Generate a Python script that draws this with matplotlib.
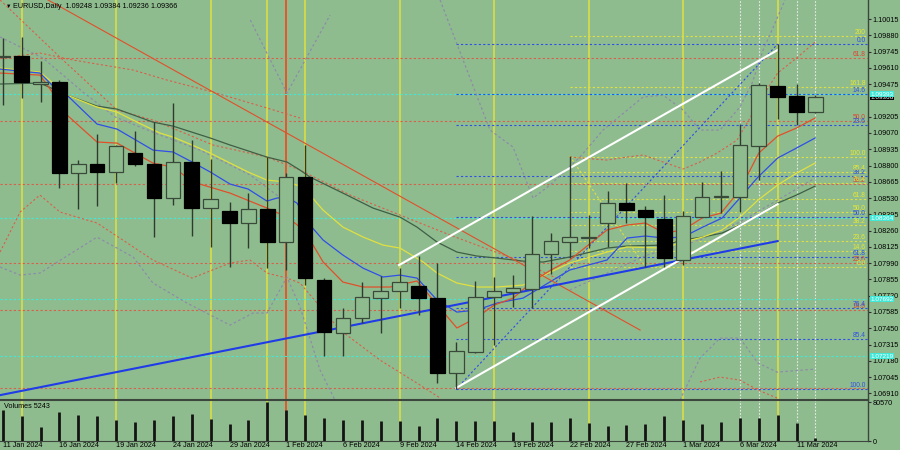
import matplotlib
matplotlib.use('Agg')
import matplotlib.pyplot as plt
import matplotlib.transforms as mtransforms
from matplotlib.patches import Rectangle
import numpy as np

plt.rcParams['font.family'] = ['Liberation Sans', 'DejaVu Sans']

# daily bars EURUSD, 11 Jan 2024 .. 12 Mar 2024
date_labels = ['11 Jan 2024', '16 Jan 2024', '19 Jan 2024', '24 Jan 2024', '29 Jan 2024',
               '1 Feb 2024', '6 Feb 2024', '9 Feb 2024', '14 Feb 2024', '19 Feb 2024',
               '22 Feb 2024', '27 Feb 2024', '1 Mar 2024', '6 Mar 2024', '11 Mar 2024']
date_bars = [0, 3, 6, 9, 12, 15, 18, 21, 24, 27, 30, 33, 36, 39, 42]

opens = [1.09700, 1.09711, 1.09476, 1.09490, 1.08735, 1.08810, 1.08748, 1.08903, 1.08810, 1.08528,
         1.08831, 1.08445, 1.08422, 1.08320, 1.08439, 1.08165, 1.08702, 1.07850, 1.07413, 1.07532,
         1.07703, 1.07759, 1.07802, 1.07703, 1.07076, 1.07255, 1.07711, 1.07748, 1.07773, 1.08063,
         1.08168, 1.08200, 1.08320, 1.08486, 1.08431, 1.08356, 1.08016, 1.08370, 1.08536, 1.08536,
         1.08964, 1.09462, 1.09379, 1.09248]
highs = [1.09857, 1.09868, 1.09669, 1.09509, 1.08845, 1.09061, 1.08970, 1.09088, 1.09158, 1.09321,
         1.09011, 1.08854, 1.08499, 1.08569, 1.08873, 1.08740, 1.08970, 1.07864, 1.07615, 1.07836,
         1.07883, 1.07947, 1.08049, 1.07988, 1.07338, 1.07844, 1.07872, 1.07891, 1.08381, 1.08242,
         1.08878, 1.08389, 1.08591, 1.08652, 1.08464, 1.08555, 1.08422, 1.08660, 1.08757, 1.09144,
         1.09487, 1.09808, 1.09476, 1.09384]
lows = [1.09302, 1.09357, 1.09329, 1.08615, 1.08439, 1.08464, 1.08652, 1.08798, 1.08209, 1.08472,
        1.08215, 1.08126, 1.07955, 1.08113, 1.07947, 1.07935, 1.07808, 1.07222, 1.07222, 1.07491,
        1.07413, 1.07615, 1.07559, 1.06993, 1.06943, 1.07242, 1.07311, 1.07623, 1.07615, 1.07900,
        1.08030, 1.08113, 1.08126, 1.08325, 1.07960, 1.07960, 1.07974, 1.08370, 1.08403, 1.08416,
        1.08679, 1.09183, 1.09136, 1.09236]
closes = [1.09712, 1.09490, 1.09490, 1.08735, 1.08810, 1.08748, 1.08964, 1.08810, 1.08528, 1.08831,
          1.08450, 1.08522, 1.08320, 1.08436, 1.08165, 1.08702, 1.07864, 1.07416, 1.07532, 1.07706,
          1.07761, 1.07836, 1.07703, 1.07076, 1.07261, 1.07711, 1.07761, 1.07781, 1.08063, 1.08176,
          1.08209, 1.08205, 1.08491, 1.08431, 1.08370, 1.08032, 1.08381, 1.08536, 1.08549, 1.08970,
          1.09467, 1.09365, 1.09246, 1.09366]
volumes = [64700, 52400, 29200, 61200, 54500, 53000, 42800, 39500, 43600, 53000,
           56500, 45600, 34500, 43600, 80570, 64100, 54500, 46900, 44200, 43600,
           40700, 41500, 30400, 48300, 41500, 40700, 42100, 19500, 40100, 40100,
           47700, 38000, 30400, 32500, 36000, 51000, 42800, 36000, 39500, 46900,
           48300, 54500, 37400, 5243]

# moving averages, read as (bar, price)
ma_red = [(-0.14, 1.09567), (1.97, 1.09550), (2.66, 1.09401), (3.40, 1.09219), (4.99, 1.08995),
          (6.05, 1.08986), (7.95, 1.08820), (9.01, 1.08787), (10.07, 1.08663), (12.03, 1.08571),
          (13.98, 1.08447), (15.04, 1.08372), (15.73, 1.08289), (16.26, 1.08182), (16.95, 1.08000),
          (18.0, 1.07833), (19.06, 1.07792), (20.49, 1.07792), (21.92, 1.07842), (24.03, 1.07452),
          (25.04, 1.07535), (26.0, 1.07642), (27.0, 1.07700), (28.0, 1.07833), (29.0, 1.07933),
          (30.0, 1.08016), (31.97, 1.08265), (33.03, 1.08306), (34.0, 1.08323), (35.0, 1.08240),
          (36.0, 1.08265), (37.0, 1.08364), (38.0, 1.08405), (39.0, 1.08596), (40.0, 1.08903),
          (41.0, 1.09044), (42.0, 1.09111), (42.98, 1.09194)]
ma_blue = [(-0.14, 1.09600), (1.97, 1.09567), (2.61, 1.09467), (3.40, 1.09384), (4.99, 1.09144),
           (6.05, 1.09102), (7.95, 1.08928), (9.01, 1.08912), (10.02, 1.08829), (10.98, 1.08746),
           (12.03, 1.08646), (12.98, 1.08605), (13.98, 1.08505), (14.51, 1.08530), (15.04, 1.08538),
           (15.57, 1.08488), (16.26, 1.08306), (16.95, 1.08182), (18.0, 1.08057), (19.06, 1.07949),
           (20.12, 1.07875), (21.02, 1.07891), (21.92, 1.07866), (22.98, 1.07684), (24.03, 1.07584),
           (25.09, 1.07601), (26.15, 1.07659), (27.53, 1.07700), (30.0, 1.07933), (31.97, 1.08016),
           (33.03, 1.08198), (34.0, 1.08215), (35.0, 1.08198), (36.0, 1.08207), (37.05, 1.08290),
           (38.06, 1.08364), (39.0, 1.08530), (39.96, 1.08704), (41.0, 1.08862), (42.0, 1.08945),
           (42.98, 1.09028)]
ma_yellow = [(-0.14, 1.09608), (1.97, 1.09575), (2.66, 1.09484), (3.40, 1.09384), (4.99, 1.09285),
             (6.05, 1.09243), (7.11, 1.09160), (8.32, 1.09069), (9.01, 1.09036), (10.02, 1.08970),
             (10.98, 1.08903), (12.03, 1.08820), (12.98, 1.08746), (13.98, 1.08679), (15.04, 1.08663),
             (15.89, 1.08621), (16.95, 1.08430), (18.0, 1.08289), (19.06, 1.08207), (20.12, 1.08140),
             (21.02, 1.08115), (22.24, 1.08000), (22.98, 1.07908), (24.03, 1.07825), (25.09, 1.07792),
             (26.15, 1.07792), (27.53, 1.07808), (30.0, 1.07991), (31.97, 1.08082), (33.03, 1.08124),
             (35.0, 1.08115), (36.0, 1.08165), (37.05, 1.08207), (38.06, 1.08265), (39.0, 1.08372),
             (39.96, 1.08513), (41.0, 1.08638), (42.0, 1.08737), (42.98, 1.08820)]
ma_green = [(-0.14, 1.09476), (1.97, 1.09484), (3.40, 1.09384), (4.99, 1.09293), (6.05, 1.09268),
            (7.95, 1.09160), (9.01, 1.09127), (10.98, 1.09028), (12.03, 1.08970), (13.98, 1.08870),
            (15.04, 1.08829), (15.73, 1.08762), (16.26, 1.08704), (18.0, 1.08571), (19.59, 1.08447),
            (21.02, 1.08372), (21.92, 1.08289), (22.98, 1.08165), (24.03, 1.08082), (25.09, 1.08049),
            (26.15, 1.08032), (27.53, 1.08007), (28.59, 1.07999), (30.0, 1.08041), (31.97, 1.08115),
            (33.03, 1.08132), (35.0, 1.08140), (36.0, 1.08182), (37.05, 1.08207), (38.06, 1.08240),
            (39.0, 1.08306), (39.96, 1.08389), (41.0, 1.08488), (42.0, 1.08555), (42.98, 1.08629)]

# dotted bands / envelopes, (bar, price)
gray_upper_left = [(13.1, 1.10007), (15.04, 1.09401), (17.32, 1.10048)]
gray_upper_right = [(23.14, 1.10173), (25.78, 1.09094), (27.0, 1.08953), (28.06, 1.08530),
                    (28.96, 1.08638), (30.54, 1.08870), (31.76, 1.09094), (33.88, 1.09368),
                    (34.94, 1.09384), (36.0, 1.09260), (36.89, 1.09094), (37.95, 1.09094),
                    (39.0, 1.09285), (39.65, 1.09484), (40.23, 1.09758), (40.7, 1.09924),
                    (41.39, 1.10173)]
gray_desc = [(-0.14, 1.09866), (2.13, 1.09691), (4.25, 1.09409), (5.95, 1.09202), (8.32, 1.09053),
             (10.44, 1.08928), (13.1, 1.08721), (15.2, 1.08472)]
gray_mid_right = [(30.0, 1.07767), (34.09, 1.08057), (36.89, 1.08182), (39.0, 1.08331),
                  (41.0, 1.08513), (42.98, 1.08696)]
gray_lower_left = [(-0.14, 1.07958), (0.92, 1.07891), (1.97, 1.07908), (4.99, 1.08206), (6.9, 1.08041),
                   (7.95, 1.07825), (9.75, 1.07659), (12.03, 1.07476), (13.24, 1.07576),
                   (13.98, 1.07576), (15.04, 1.07874), (15.73, 1.07626), (16.79, 1.07103),
                   (17.58, 1.06854)]
gray_lower_right = [(35.83, 1.06854), (36.89, 1.07202), (37.95, 1.07368), (39.0, 1.07368),
                    (39.96, 1.07161), (40.97, 1.07086), (42.98, 1.07111)]
red_lower_left = [(-0.14, 1.08082), (0.92, 1.08414), (1.97, 1.08555), (3.03, 1.08414), (4.99, 1.08323),
                  (7.95, 1.08016), (10.02, 1.07866), (12.03, 1.07991), (13.08, 1.08016),
                  (13.98, 1.07908), (15.04, 1.07866), (15.73, 1.07825), (17.85, 1.07435),
                  (19.96, 1.07186), (22.08, 1.06979), (23.14, 1.06871)]
red_lower_right = [(36.89, 1.07004), (37.95, 1.07045), (39.0, 1.07020), (39.96, 1.06937),
                   (40.97, 1.06871)]
red_upper_right = [(30.0, 1.08870), (31.97, 1.08845), (33.03, 1.08870), (33.88, 1.08887),
                   (36.0, 1.08771), (36.89, 1.08829), (37.79, 1.08903), (38.85, 1.09011),
                   (39.38, 1.09152), (40.07, 1.09343), (41.0, 1.09567), (42.0, 1.09691),
                   (42.98, 1.09824)]
red_upper_left = [(-0.14, 1.09691), (1.97, 1.09733), (3.72, 1.09675), (6.9, 1.09592), (8.69, 1.09509),
                  (11.13, 1.09409), (13.98, 1.09277), (15.73, 1.09194)]
red_diag = [(-0.14, 1.10173), (3.19, 1.09675), (6.05, 1.09260), (7.95, 1.09177), (11.13, 1.08970),
            (13.98, 1.08870), (15.73, 1.08762), (18.38, 1.08555), (21.02, 1.08389), (23.67, 1.08223),
            (25.78, 1.08099), (27.53, 1.07999), (29.49, 1.07850)]

# trend lines (bar, price)
red_trend = [(2.4, 1.10173), (33.72, 1.07435)]
white_upper = [(20.97, 1.07974), (41.0, 1.09758)]
white_lower = [(23.98, 1.06954), (41.0, 1.08480)]
blue_trend = [(-0.14, 1.06895), (41.0, 1.08173)]
blue_fib_diag = [(23.98, 1.06943), (41.0, 1.09808)]
yellow_fib_diag = [(30.0, 1.08878), (34.0, 1.07960)]

# fibonacci levels
red_fib_lab = ['61.8', '50.0', '38.2', '23.6', '14.6', '']
red_fib_px = [1.09691, 1.09169, 1.08646, 1.07991, 1.07601, 1.06954]
blue_fib_lab = ['0.0', '14.6', '23.6', '38.2', '50.0', '61.8', '76.4', '85.4', '100.0']
blue_fib_px = [1.09808, 1.09390, 1.09132, 1.08714, 1.08376, 1.08037, 1.07619, 1.07361, 1.06943]
yel_fib_lab = ['200', '161.8', '100.0', '85.4', '76.4', '61.8', '50.0', '38.2', '23.6', '14.6', '0.0']
yel_fib_px = [1.09874, 1.09451, 1.08874, 1.08746, 1.08654, 1.08522, 1.08414, 1.08306, 1.08173,
              1.08093, 1.07958]
cyan_px = [1.09393, 1.08364, 1.07692, 1.07219]

price_ticks = [1.10015, 1.09880, 1.09745, 1.09610, 1.09475, 1.09205, 1.09070, 1.08935, 1.08800,
               1.08665, 1.08530, 1.08395, 1.08260, 1.08125, 1.07990, 1.07855, 1.07720, 1.07585,
               1.07450, 1.07315, 1.07180, 1.07045, 1.06910]

friday_bars = [1, 6, 11, 14, 16, 21, 26, 31, 36, 41]
month_bar = 15
white_bars = [39, 40, 42, 43]

BG = '#8fbc8f'
DARK = '#2e3b2e'
RED = '#e0502a'
BLUE = '#2f4fe6'
YEL = '#e0e040'
GRN = '#3f5f45'
GRAY = '#8c8ca8'
RDOT = '#d8604a'
CYAN = '#40e8d8'
DOT = (0, (2, 2))
FS = 5.2

fig = plt.figure(figsize=(9, 4.5), dpi=100, facecolor=BG)
ax = fig.add_axes([0, 51 / 450, 868 / 900, 399 / 450], facecolor=BG)
axv = fig.add_axes([0, 9 / 450, 868 / 900, 41 / 450], facecolor=BG, sharex=ax)

x0, x1 = -0.143, 45.78
ax.set_xlim(x0, x1)
ax.set_ylim(1.06863, 1.10173)
axv.set_ylim(0, 85300)

# vertical separators
for a in (ax, axv):
    for b in friday_bars:
        a.axvline(b, color=YEL, lw=1.1, zorder=1)
    a.axvline(month_bar, color='#ff3a10', lw=1.1, zorder=1)
    for b in white_bars:
        a.axvline(b, color='#e8e8e8', lw=0.8, ls=(0, (1.5, 1.5)), zorder=1)

# horizontal levels
for p in red_fib_px:
    ax.axhline(p, color=RDOT, lw=0.8, ls=DOT, zorder=1)
for p in cyan_px:
    ax.axhline(p, color=CYAN, lw=0.8, ls=DOT, zorder=1)
ax.hlines(blue_fib_px, 23.98, x1, color=BLUE, lw=0.8, ls=DOT, zorder=1)
ax.hlines(yel_fib_px, 30.0, x1, color=YEL, lw=0.8, ls=DOT, zorder=1)

lab_x = 45.66
for lab, p in zip(red_fib_lab, red_fib_px):
    ax.text(lab_x, p, lab, color='#e04030', fontsize=4.8, ha='right', va='bottom')
for lab, p in zip(blue_fib_lab, blue_fib_px):
    ax.text(lab_x, p, lab, color=BLUE, fontsize=4.8, ha='right', va='bottom')
for lab, p in zip(yel_fib_lab, yel_fib_px):
    ax.text(lab_x, p, lab, color='#e8e830', fontsize=4.8, ha='right', va='bottom')


def line(pts, **kw):
    xs, ys = zip(*pts)
    ax.plot(xs, ys, **kw)


# dotted bands
for pts in (gray_upper_left, gray_upper_right, gray_desc, gray_mid_right, gray_lower_left, gray_lower_right):
    line(pts, color=GRAY, lw=0.9, ls=DOT, zorder=2)
for pts in (red_lower_left, red_lower_right, red_upper_right, red_upper_left, red_diag):
    line(pts, color=RDOT, lw=0.8, ls=DOT, zorder=2)
line(blue_fib_diag, color=BLUE, lw=0.8, ls=DOT, zorder=2)
line(yellow_fib_diag, color=YEL, lw=0.8, ls=DOT, zorder=2)

# moving averages
line(ma_green, color=GRN, lw=0.9, zorder=3)
line(ma_yellow, color=YEL, lw=0.9, zorder=3)
line(ma_blue, color=BLUE, lw=0.9, zorder=3)
line(ma_red, color=RED, lw=0.9, zorder=3)

# trend lines
line(red_trend, color=RED, lw=0.8, zorder=3)
line(blue_trend, color='#1f3ce8', lw=1.5, zorder=3)
line(white_upper, color='white', lw=1.5, zorder=3)
line(white_lower, color='white', lw=1.5, zorder=3)

# candles
w = 0.77
for i in range(len(opens)):
    o, h, l, c = opens[i], highs[i], lows[i], closes[i]
    ax.vlines(i, l, h, color=DARK, lw=1, zorder=4)
    lo, hi = min(o, c), max(o, c)
    if hi - lo < 0.00004:
        ax.hlines((o + c) / 2, i - w / 2, i + w / 2, color='black', lw=1.2, zorder=5)
        continue
    fc = BG if c > o else 'black'
    ec = '#3a4a3a' if c > o else 'black'
    ax.add_patch(Rectangle((i - w / 2, lo), w, hi - lo, facecolor=fc, edgecolor=ec, lw=0.9, zorder=5))

# volume
axv.vlines(np.arange(len(volumes)), 0, volumes, color='#141414', lw=2, zorder=3)

# axes look
for a in (ax, axv):
    for s in ('left', 'top', 'bottom'):
        a.spines[s].set_visible(False)
    a.spines['right'].set_color('#3c463c')
    a.spines['right'].set_linewidth(1)
    a.yaxis.tick_right()
    a.tick_params(axis='y', labelsize=FS, length=2, pad=1.5, colors='#303030', labelcolor='black')
axv.spines['top'].set_visible(True)
axv.spines['bottom'].set_visible(True)
axv.spines['top'].set_color('#3c463c')
axv.spines['bottom'].set_color('#3c463c')
axv.spines['top'].set_linewidth(1.5)

ax.set_yticks(price_ticks)
ax.set_yticklabels(['%.5f' % p for p in price_ticks])
ax.tick_params(axis='x', bottom=False, labelbottom=False)
axv.set_yticks([0, 80570])
axv.set_yticklabels(['0', '80570'])
axv.tick_params(axis='x', bottom=False, labelbottom=False)

# date labels along the bottom edge
date_tr = mtransforms.blended_transform_factory(axv.transData, fig.transFigure)
for b, lab in zip(date_bars, date_labels):
    fig.text(b, 1.2 / 450, lab, transform=date_tr, fontsize=FS, ha='left', va='bottom', color='black')

# price markers on the axis
ax.text(1.003, closes[-1], '%.5f' % closes[-1], transform=ax.get_yaxis_transform(), fontsize=4.6,
        color='white', va='center', ha='left', bbox=dict(boxstyle='square,pad=0.08', fc='black', ec='none'),
        clip_on=False, zorder=6)
for p in cyan_px:
    ax.text(1.003, p, '%.5f' % p, transform=ax.get_yaxis_transform(), fontsize=4.6, color='white',
            va='center', ha='left', bbox=dict(boxstyle='square,pad=0.08', fc=CYAN, ec='none'),
            clip_on=False, zorder=7)

fig.text(6 / 900, 1 - 6 / 450, '\u25bc', fontsize=4, va='center', ha='left', color='black')
fig.text(13 / 900, 1 - 6 / 450, 'EURUSD,Daily  %.5f %.5f %.5f %.5f' % (opens[-1], highs[-1], lows[-1], closes[-1]),
         fontsize=FS, va='center', ha='left', color='black')
axv.text(4 / 868, 0.93, 'Volumes %d' % volumes[-1], transform=axv.transAxes, fontsize=FS,
         va='top', ha='left', color='black')

fig.savefig('out.png', dpi=100, facecolor=BG)
